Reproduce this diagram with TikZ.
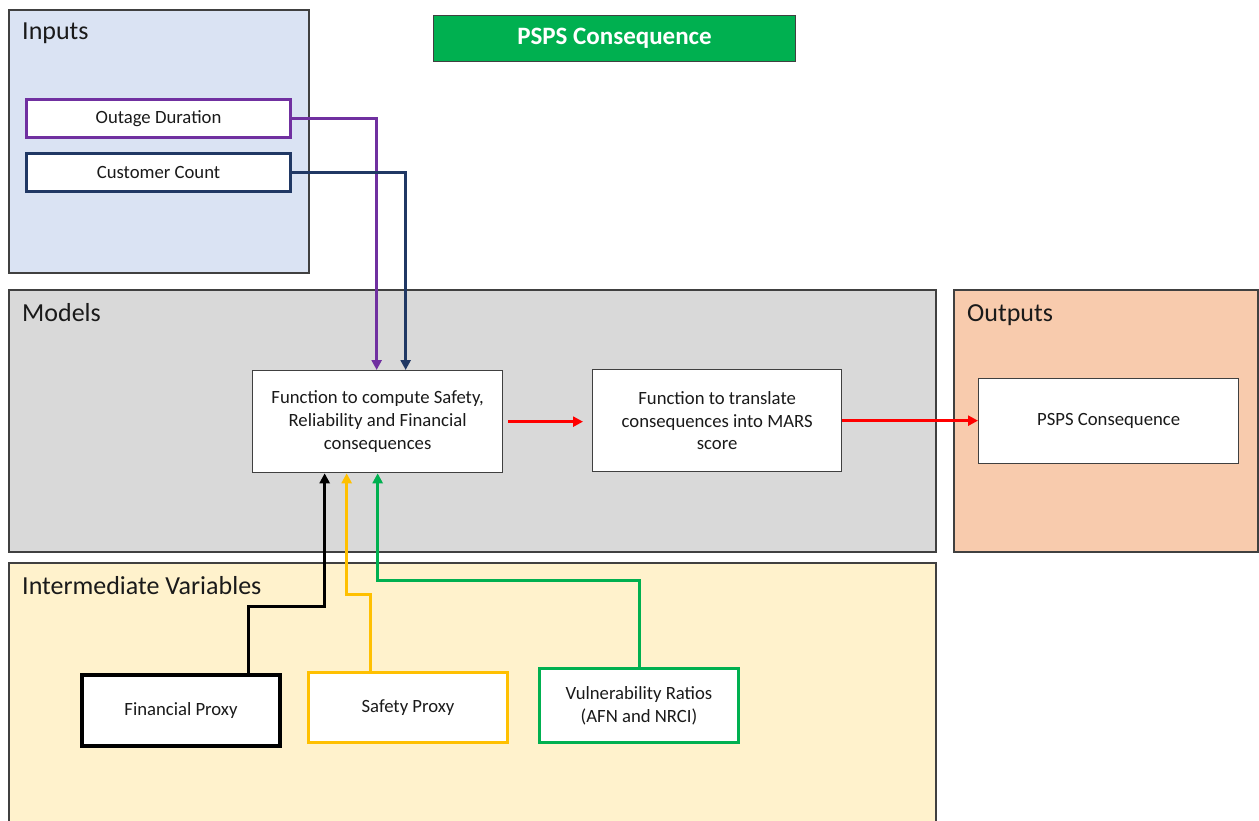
\documentclass[tikz,border=0pt]{standalone}
\usepackage{fontspec}
\setmainfont{Carlito}
\usetikzlibrary{arrows.meta,calc}
\definecolor{inbg}{HTML}{DAE3F3}
\definecolor{modbg}{HTML}{D9D9D9}
\definecolor{outbg}{HTML}{F8CBAD}
\definecolor{intbg}{HTML}{FFF2CC}
\definecolor{pborder}{HTML}{404040}
\definecolor{titlegreen}{HTML}{00B050}
\definecolor{purp}{HTML}{7030A0}
\definecolor{navy}{HTML}{203864}
\definecolor{gold}{HTML}{FFC000}
\definecolor{vgreen}{HTML}{00B050}
\definecolor{txt}{HTML}{1A1A1A}
\definecolor{redc}{HTML}{FF0000}
\begin{document}
\begin{tikzpicture}[x=1pt,y=-1pt,
  panel/.style={draw=pborder, line width=1.1pt, anchor=north west, inner sep=0pt, outer sep=0pt},
  lbl/.style={anchor=base west, inner sep=0pt, text=txt, font=\fontsize{26}{30}\selectfont},
  boxtxt/.style={align=center, text=txt, font=\fontsize{18.7}{22.8}\selectfont, anchor=north west, inner sep=0pt, fill=white},
  inbox/.style={boxtxt, draw, line width=3pt},
  funbox/.style={boxtxt, draw=pborder, line width=1.3pt},
  conn/.style={line width=3pt, -{Triangle[length=10pt,width=10pt]}},
  redarrow/.style={line width=3pt, redc, -{Triangle[length=10pt,width=10pt]}}
]
\useasboundingbox (0,0) rectangle (1259,821);
% panels
\node[panel, fill=inbg, minimum width=300pt, minimum height=263pt] (inputs) at (9,10) {};
\node[panel, fill=modbg, minimum width=927pt, minimum height=262pt] (models) at (9,290) {};
\node[panel, fill=outbg, minimum width=304pt, minimum height=262pt] (outputs) at (954,290) {};
\node[panel, fill=intbg, minimum width=927pt, minimum height=280pt] (inter) at (9,563) {};
% panel labels
\node[lbl] (inputsL) at (22,40) {Inputs};
\node[lbl] (modelsL) at (22,321) {Models};
\node[lbl] (outputsL) at (967,321) {Outputs};
\node[lbl] (interL) at (22,594) {Intermediate Variables};
% title
\node[draw=pborder, line width=1pt, fill=titlegreen, anchor=north west, inner sep=0pt,
      minimum width=362pt, minimum height=46pt, text=white,
      font=\fontsize{25}{30}\selectfont\bfseries] (title) at (433,15) {PSPS Consequence};
% inputs
\node[inbox, draw=purp, minimum width=264pt, minimum height=38pt] (od) at (25,98) {Outage Duration};
\node[inbox, draw=navy, minimum width=264pt, minimum height=38pt] (cc) at (25,152) {Customer Count};
% models
\node[funbox, minimum width=250pt, minimum height=102pt] (f1) at (252,370)
  {Function to compute Safety,\\Reliability and Financial\\consequences};
\node[funbox, minimum width=249pt, minimum height=102pt] (f2) at (592,369)
  {Function to translate\\consequences into MARS\\score};
\node[funbox, minimum width=260pt, minimum height=85pt] (out) at (978,378) {PSPS Consequence};
% intermediate variables
\node[inbox, draw=black, line width=4pt, minimum width=198pt, minimum height=71pt] (fp) at (80,673) {Financial Proxy};
\node[inbox, draw=gold, minimum width=199pt, minimum height=70pt] (sp) at (307,671) {Safety Proxy};
\node[inbox, draw=vgreen, minimum width=199pt, minimum height=74pt] (vr) at (538,667) {Vulnerability Ratios\\(AFN and NRCI)};
% connectors
\draw[conn, purp] (od.east) -| ([xshift=-1pt]f1.north);
\draw[conn, navy] (cc.east) -| ([xshift=28pt]f1.north);
\draw[conn, black] ([xshift=67pt]fp.north) -- ++(0,-67) -| ([xshift=-53pt]f1.south);
\draw[conn, gold] ([xshift=-37.5pt]sp.north) -- ++(0,-77) -| ([xshift=-31pt]f1.south);
\draw[conn, vgreen] (vr.north) -- ++(0,-87) -| (f1.south);
\draw[redarrow, shorten <=5pt, shorten >=9pt] (f1.east) -- (f1.east -| f2.west);
\draw[redarrow] (f2.east) -- (f2.east -| out.west);
\end{tikzpicture}
\end{document}
